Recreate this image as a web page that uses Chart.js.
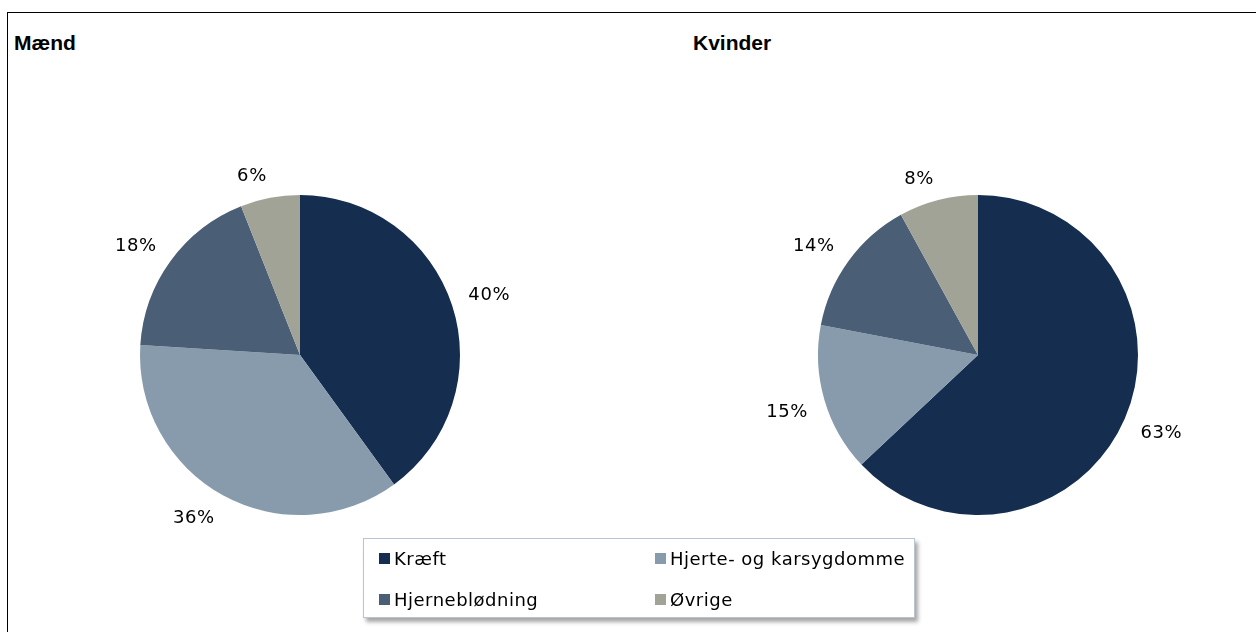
<!DOCTYPE html>
<html>
<head>
<meta charset="utf-8">
<script src="https://cdn.jsdelivr.net/npm/chart.js@4/dist/chart.umd.min.js"></script>
<style>
  html, body { margin: 0; padding: 0; background: #fff; }
  body { width: 1256px; height: 632px; position: relative; overflow: hidden; }
  #frame { position: absolute; left: 7px; top: 12px; width: 1400px; height: 800px;
           border-left: 1px solid #000; border-top: 1px solid #000; }
  .title { position: absolute; top: 31px; font: bold 21px "Liberation Sans", Arial, sans-serif; color: #000; }
  canvas { position: absolute; }
  #legend { position: absolute; left: 363px; top: 538px; width: 550px; height: 78px;
            border: 1px solid #b9c4d0; background: #fff; box-shadow: 3px 4px 4px rgba(0,0,0,0.35);
            font: 18px "DejaVu Sans", Verdana, sans-serif; letter-spacing: 0.5px; color: #000; }
  .item { position: absolute; display: flex; align-items: center; white-space: nowrap; }
  .sw { width: 11px; height: 11px; margin-right: 4px; }
</style>
</head>
<body>
<div id="frame"></div>
<div class="title" style="left:14px">Mænd</div>
<div class="title" style="left:693px">Kvinder</div>
<canvas id="c1" width="500" height="420" style="left:50px;top:145px;width:500px;height:420px"></canvas>
<canvas id="c2" width="500" height="420" style="left:728px;top:145px;width:500px;height:420px"></canvas>
<div id="legend"></div>
<script>
const categories = ["Kræft", "Hjerte- og karsygdomme", "Hjerneblødning", "Øvrige"];
const colors = ["#152d4f", "#879bad", "#4a5f76", "#a2a397"];
const maend = [40, 36, 18, 6];
const kvinder = [63, 15, 14, 8];

const outLabels = {
  id: 'outLabels',
  afterDatasetsDraw(chart) {
    const ctx = chart.ctx;
    const meta = chart.getDatasetMeta(0);
    const data = chart.data.datasets[0].data;
    ctx.save();
    ctx.font = '18px "DejaVu Sans", Verdana, sans-serif';
    try { ctx.letterSpacing = '0.6px'; } catch (e) {}
    ctx.fillStyle = '#000';
    ctx.textAlign = 'center';
    ctx.textBaseline = 'alphabetic';
    const capH = 13;
    meta.data.forEach((arc, i) => {
      const p = arc.getProps(['x','y','startAngle','endAngle','outerRadius'], true);
      const mid = (p.startAngle + p.endAngle) / 2;
      const c = Math.cos(mid), s = Math.sin(mid);
      const r = p.outerRadius + 17;
      const ax = p.x + c * r, ay = p.y + s * r;
      const txt = data[i] + '%';
      const w = ctx.measureText(txt).width;
      const cx = ax + (c >= 0 ? 1 : -1) * w / 2;
      const cy = ay + (s >= 0 ? 1 : -1) * capH / 2;
      ctx.fillText(txt, cx, cy + capH / 2);
    });
    ctx.restore();
  }
};

function makePie(id, values) {
  new Chart(document.getElementById(id), {
    type: 'pie',
    data: { labels: categories, datasets: [{ data: values, backgroundColor: colors, borderWidth: 0 }] },
    options: {
      responsive: false,
      animation: false,
      layout: { padding: { left: 90, right: 90, top: 50, bottom: 50 } },
      plugins: { legend: { display: false }, tooltip: { enabled: false } }
    },
    plugins: [outLabels]
  });
}
makePie('c1', maend);
makePie('c2', kvinder);

const leg = document.getElementById('legend');
const pos = [[15, 19], [291, 19], [15, 60], [291, 60]];
categories.forEach((c, i) => {
  const d = document.createElement('div');
  d.className = 'item';
  d.style.left = pos[i][0] + 'px';
  d.style.top = (pos[i][1] - 11) + 'px';
  d.style.height = '22px';
  d.innerHTML = '<span class="sw" style="background:' + colors[i] + '"></span><span>' + c + '</span>';
  leg.appendChild(d);
});
</script>
</body>
</html>
